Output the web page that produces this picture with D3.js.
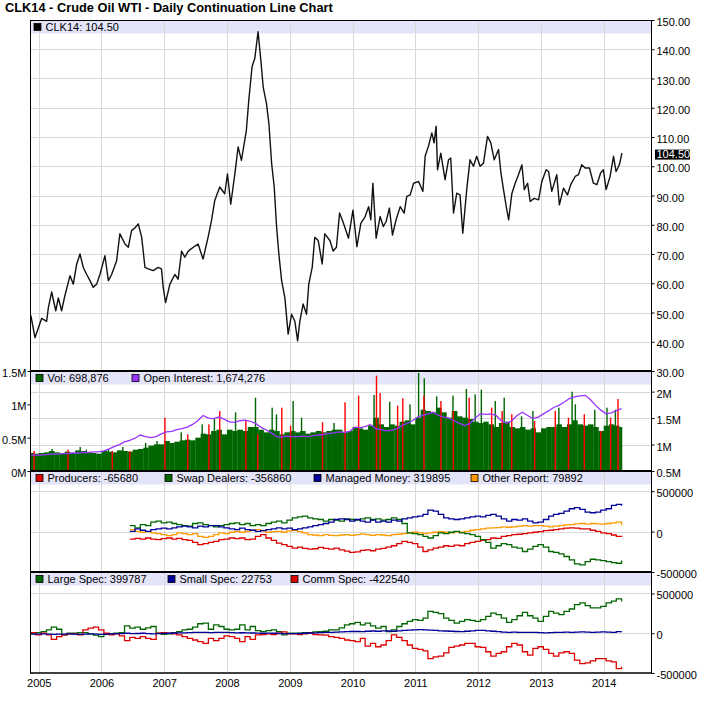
<!DOCTYPE html>
<html>
<head>
<meta charset="utf-8">
<title>CLK14 - Crude Oil WTI</title>
<script src="https://cdn.jsdelivr.net/npm/d3@7/dist/d3.min.js"></script>
<style>
  body { margin: 0; background: #fff; }
  svg text { font-family: "Liberation Sans", Arial, Helvetica, sans-serif; }
</style>
</head>
<body>
<script>
// ---- data ----

// daily continuation close (sampled), [date, price]
const priceData = [
  ["2004-11-16",49],["2004-12-10",41.4],["2005-01-18",48],["2005-02-16",47],["2005-02-26",51.7],
  ["2005-03-17",57],["2005-04-10",50.6],["2005-04-25",55],["2005-05-14",50.6],["2005-06-03",56],
  ["2005-07-02",62.6],["2005-07-21",59.7],["2005-08-10",66.6],["2005-08-29",70],["2005-09-17",65.4],
  ["2005-10-07",63],["2005-10-26",60.9],["2005-11-14",58.6],["2005-12-04",59.7],["2005-12-23",63],
  ["2006-01-21",69.4],["2006-02-10",60.9],["2006-03-01",63],["2006-03-30",67.7],["2006-04-18",76.9],
  ["2006-05-18",73.4],["2006-06-06",72.3],["2006-06-25",78],["2006-07-15",79],["2006-08-03",80.3],
  ["2006-08-23",75.7],["2006-09-11",65.4],["2006-09-30",64.9],["2006-10-29",64.3],["2006-11-27",65.4],
  ["2006-12-16",64.9],["2006-12-26",58.6],["2007-01-09",53.4],["2007-02-03",59.7],["2007-03-04",63],
  ["2007-03-23",61.4],["2007-04-12",71],["2007-05-01",68.9],["2007-05-21",71],["2007-06-19",72.3],
  ["2007-07-17",73.4],["2007-08-15",68.3],["2007-09-13",75.7],["2007-10-03",81.4],["2007-10-22",88.3],
  ["2007-11-20",92.9],["2007-12-19",90.6],["2008-01-04",97.4],["2008-01-23",87],["2008-02-16",97.4],
  ["2008-03-06",106.6],["2008-03-25",102],["2008-04-23",112.3],["2008-05-07",122.6],["2008-05-26",134],
  ["2008-06-11",136.9],["2008-06-30",146],["2008-07-16",136.3],["2008-07-30",127],["2008-08-18",121.4],
  ["2008-09-01",114.6],["2008-09-17",100.9],["2008-10-02",92.9],["2008-10-16",79],["2008-10-29",70],
  ["2008-11-14",60.9],["2008-12-03",55],["2008-12-22",42.6],["2009-01-11",49.4],["2009-01-30",47],
  ["2009-02-15",40.3],["2009-02-28",47],["2009-03-19",52.9],["2009-04-08",49.4],["2009-04-21",59.7],
  ["2009-05-11",65.4],["2009-05-26",75.7],["2009-06-15",74.6],["2009-07-08",66.6],["2009-07-23",76.9],
  ["2009-08-22",74.6],["2009-09-10",71],["2009-09-29",72.3],["2009-10-17",84],["2009-11-09",80.5],
  ["2009-12-08",75.4],["2010-01-03",85],["2010-01-26",72.5],["2010-02-18",80.5],["2010-03-15",82.8],
  ["2010-04-04",86.2],["2010-04-17",81.7],["2010-04-29",94.2],["2010-05-18",75.4],["2010-06-10",82.8],
  ["2010-06-29",79.4],["2010-07-15",81.1],["2010-08-03",85.7],["2010-08-21",76.5],["2010-09-11",81.7],
  ["2010-10-05",86.2],["2010-10-28",84],["2010-11-12",89.7],["2010-12-02",90.2],["2010-12-22",94.2],
  ["2011-01-20",94.8],["2011-02-14",91.4],["2011-02-27",103.4],["2011-03-18",106.8],["2011-04-07",111.4],
  ["2011-04-20",108],["2011-05-02",113.7],["2011-05-10",98.8],["2011-05-29",104.5],["2011-06-23",95.4],
  ["2011-07-13",102.2],["2011-07-26",102.8],["2011-08-11",84],["2011-08-30",90.8],["2011-09-18",90.2],
  ["2011-10-04",77.1],["2011-10-27",92],["2011-11-15",102.2],["2011-12-05",100],["2011-12-24",103.4],
  ["2012-01-13",100],["2012-02-01",101],["2012-02-25",110.2],["2012-03-15",108],["2012-04-04",102.2],
  ["2012-04-29",105.7],["2012-05-13",97.7],["2012-05-28",92],["2012-06-13",86.2],["2012-06-27",81.7],
  ["2012-07-16",90.8],["2012-08-04",94.2],["2012-08-23",97.1],["2012-09-12",100.5],["2012-09-26",92],
  ["2012-10-15",94.2],["2012-10-30",88],["2012-11-23",89],["2012-12-18",88.5],["2013-01-06",94.8],
  ["2013-01-31",98.8],["2013-02-14",98.2],["2013-03-05",91.4],["2013-04-03",97.1],["2013-04-18",86.8],
  ["2013-05-12",92.5],["2013-06-04",90.2],["2013-06-23",93.7],["2013-07-19",96.5],["2013-08-07",97.1],
  ["2013-08-26",100.5],["2013-09-15",99.4],["2013-10-10",99.4],["2013-11-02",94.2],["2013-11-22",93.7],
  ["2013-12-14",97.7],["2013-12-30",98.8],["2014-01-15",92],["2014-02-07",96.5],["2014-02-27",103.4],
  ["2014-03-14",98.2],["2014-04-02",100.5],["2014-04-17",104.5]
];
const lastPrice = 104.50;

// monthly volume level (millions), Nov 2004 .. Apr 2014
const volumeM = [
  0.27,0.26,
  0.27,0.28,0.30,0.28,0.27,0.29,0.27,0.31,0.30,0.28,0.27,0.26,
  0.30,0.29,0.28,0.31,0.30,0.29,0.32,0.33,0.35,0.38,0.40,0.40,
  0.45,0.42,0.44,0.46,0.47,0.46,0.50,0.56,0.55,0.60,0.62,0.55,
  0.62,0.60,0.62,0.60,0.66,0.66,0.62,0.58,0.62,0.60,0.55,0.58,
  0.60,0.58,0.60,0.56,0.58,0.60,0.58,0.60,0.62,0.62,0.58,0.60,
  0.66,0.64,0.62,0.68,0.80,0.70,0.66,0.70,0.68,0.74,0.76,0.70,
  0.80,0.92,0.90,0.88,0.95,0.88,0.80,0.90,0.82,0.80,0.78,0.74,
  0.72,0.74,0.70,0.66,0.72,0.74,0.66,0.64,0.66,0.62,0.64,0.58,
  0.64,0.66,0.66,0.70,0.66,0.70,0.76,0.70,0.68,0.70,0.66,0.60,
  0.68,0.70,0.68,0.66
];
// single heavy sessions, [date, millions]
const volUpSpikes = [
  ["2005-03-20",0.33],["2005-08-30",0.36],["2005-10-05",0.32],["2006-02-10",0.33],["2006-05-05",0.36],
  ["2006-09-15",0.42],["2006-11-20",0.45],["2007-04-10",0.58],["2007-08-10",0.70],["2007-10-20",0.78],
  ["2008-02-20",0.88],["2008-06-15",1.10],["2008-09-20",0.95],["2008-10-15",0.85],["2009-01-20",1.05],
  ["2009-03-10",0.80],["2009-09-15",0.72],["2010-05-06",1.14],["2010-08-05",1.04],["2010-12-01",1.00],
  ["2011-01-20",1.47],["2011-02-22",1.39],["2011-05-05",1.12],["2011-08-08",1.13],["2011-10-25",1.23],
  ["2011-12-15",1.15],["2012-01-20",1.22],["2012-04-10",1.05],["2012-06-01",1.10],["2012-09-10",0.82],
  ["2012-11-15",0.90],["2013-04-15",0.95],["2013-07-01",1.19],["2013-07-20",1.00],["2013-11-10",0.92],
  ["2014-01-20",0.95],["2014-03-10",0.92]
];
const volDownSpikes = [
  ["2004-12-05",0.30],["2005-06-20",0.32],["2006-03-05",0.30],["2006-06-15",0.30],["2007-01-05",0.80],
  ["2007-05-18",0.55],["2007-09-18",0.70],["2007-11-20",0.90],["2008-04-20",0.75],["2008-06-28",0.55],
  ["2008-11-15",0.95],["2009-01-05",0.68],["2009-07-10",0.73],["2009-11-18",1.03],["2010-02-05",1.13],
  ["2010-05-20",1.43],["2010-06-10",1.17],["2010-09-20",0.98],["2010-10-20",1.09],["2011-02-20",1.13],
  ["2011-05-30",1.05],["2011-08-10",0.90],["2011-11-10",1.10],["2012-03-20",0.95],["2012-05-20",0.90],
  ["2012-07-15",0.85],["2012-11-25",0.75],["2013-03-25",0.90],["2013-06-10",0.80],["2013-09-10",0.85],
  ["2013-12-15",0.60],["2014-02-10",0.80],["2014-03-25",1.08]
];
// open interest (millions), Nov 2004 .. Apr 2014
const openInterestM = [
  0.80,0.80,
  0.80,0.81,0.82,0.82,0.83,0.83,0.84,0.84,0.85,0.85,0.86,0.86,
  0.88,0.92,0.96,1.00,1.05,1.08,1.12,1.18,1.15,1.13,1.15,1.20,
  1.24,1.25,1.28,1.30,1.33,1.38,1.45,1.55,1.50,1.49,1.52,1.48,
  1.43,1.42,1.45,1.46,1.44,1.40,1.33,1.28,1.22,1.15,1.14,1.16,
  1.15,1.15,1.16,1.15,1.17,1.18,1.19,1.21,1.22,1.24,1.23,1.25,
  1.33,1.32,1.34,1.38,1.30,1.28,1.26,1.27,1.30,1.36,1.40,1.45,
  1.52,1.55,1.58,1.61,1.55,1.52,1.50,1.45,1.40,1.36,1.40,1.50,
  1.58,1.57,1.58,1.55,1.45,1.40,1.45,1.55,1.61,1.55,1.49,1.52,
  1.58,1.64,1.70,1.74,1.80,1.87,1.90,1.92,1.93,1.85,1.74,1.65,
  1.58,1.60,1.64,1.68
];

// disaggregated COT net positions (thousands), Jun 2006 .. Apr 2014
const producersK = [
  -92,-83,-92,-79,-92,-100,-88,
  -79,-92,-83,-100,-108,-133,-162,-150,-133,-121,-100,-92,
  -79,-88,-79,-100,-92,-58,-37,-79,-108,-142,-162,-183,
  -204,-192,-208,-217,-212,-196,-208,-217,-204,-225,-242,-258,
  -250,-233,-225,-237,-217,-208,-192,-175,-150,-121,-133,-150,
  -192,-246,-225,-204,-192,-175,-183,-167,-175,-150,-133,-121,
  -108,-100,-79,-83,-58,-50,-37,-33,-25,-17,-8,0,
  12,17,25,33,42,46,42,33,33,17,4,-17,
  -25,-42,-58,-66
];
const swapDealersK = [
  75,46,87,75,117,129,108,
  117,100,87,75,67,100,108,87,75,58,75,87,
  100,108,87,100,75,87,75,100,117,129,108,142,
  171,183,192,171,158,150,129,150,142,129,158,150,
  142,158,171,150,158,142,150,171,150,100,-17,-25,
  -37,-58,-79,-50,-17,-25,-8,4,-17,-25,-37,-58,
  -100,-133,-204,-175,-150,-162,-192,-204,-246,-217,-183,-162,
  -192,-246,-258,-275,-308,-350,-400,-412,-371,-342,-350,-358,
  -371,-383,-392,-357
];
const managedMoneyK = [
  4,33,17,4,25,33,42,
  33,46,58,67,58,46,67,58,75,75,58,46,
  33,25,42,25,17,4,12,25,33,46,33,42,
  25,33,46,58,75,87,100,117,150,158,150,129,
  150,129,117,142,117,129,117,142,129,158,171,183,
  192,212,267,254,212,171,158,150,158,171,183,192,
  183,200,212,192,158,129,150,142,158,129,108,117,
  150,192,212,225,254,283,296,275,242,233,242,267,
  283,325,337,320
];
const otherReportK = [
  25,4,-8,0,-17,-25,-37,
  -50,-37,-17,-25,-37,-25,-58,-71,-58,-37,-17,-25,
  -8,4,-8,4,17,25,8,-8,0,4,-8,8,
  17,0,-17,-37,-42,-50,-37,-46,-50,-42,-37,-46,
  -37,-29,-37,-46,-37,-42,-50,-37,-33,-25,-17,-8,
  -17,-25,-17,-8,0,-8,-17,-4,-8,4,17,25,
  33,42,46,50,58,54,58,67,75,67,75,75,
  67,58,67,75,83,87,96,100,92,100,96,92,
  100,108,117,80
];

// legacy COT net positions (thousands), Nov 2004 .. Apr 2014
const largeSpecK = [
  0,8,
  21,42,76,50,-21,0,0,8,8,-8,-25,-42,
  -13,-8,0,8,93,64,76,50,68,85,0,-13,
  -8,8,21,42,50,76,119,127,50,106,85,50,
  42,50,106,42,85,34,21,34,42,21,-21,0,
  0,0,8,8,17,21,25,42,42,68,106,119,
  136,106,127,93,64,85,21,42,85,119,148,170,
  161,191,275,263,246,191,161,127,148,170,161,148,
  170,212,254,233,191,136,170,220,263,220,191,148,
  212,275,254,233,275,305,360,381,347,318,318,339,
  381,403,432,400
];
const smallSpecK = [
  -10,-12,
  -8,-10,-15,-12,-10,-8,-12,-15,-10,-8,-12,-15,
  -10,-8,-5,-5,0,-5,-3,0,-5,-8,-5,-2,
  0,3,5,5,8,10,12,10,8,10,12,10,
  8,5,6,5,3,2,0,2,0,-3,-5,-5,
  -5,-3,0,3,5,8,10,12,15,18,20,22,
  22,20,25,28,25,30,28,25,30,35,38,42,
  45,42,40,35,30,28,25,22,20,25,30,35,
  35,30,25,20,15,12,15,12,10,12,10,8,
  5,8,10,12,15,12,15,18,15,12,15,18,
  15,12,20,23
];
const commSpecK = [
  8,-21,
  0,-21,-76,-42,-21,-8,-8,-21,42,64,76,42,
  0,-21,-8,-34,-93,-51,-64,-42,-64,-76,0,8,
  0,-8,-21,-42,-64,-85,-106,-127,-64,-93,-64,-34,
  -42,-64,-106,-42,-76,-21,-17,-8,-17,0,17,-8,
  -8,-17,-8,0,-17,-21,-25,-42,-51,-64,-85,-93,
  -106,-64,-161,-127,-170,-148,-93,-21,-51,-93,-148,-191,
  -204,-221,-318,-297,-288,-246,-178,-161,-148,-127,-127,-170,
  -178,-233,-288,-254,-233,-170,-127,-148,-233,-276,-191,-170,
  -204,-254,-288,-246,-233,-254,-339,-382,-373,-348,-318,-318,
  -348,-360,-445,-420
];

const yearTicks = [2005,2006,2007,2008,2009,2010,2011,2012,2013,2014];
const priceTicks = [30,40,50,60,70,80,90,100,110,120,130,140,150];
const volLeftTicks = [0,500000,1000000,1500000];
const oiRightTicks = [500000,1000000,1500000,2000000];
const cotTicks = [-500000,0,500000];

const titleText = "CLK14 - Crude Oil WTI - Daily Continuation Line Chart";
const priceLegend = [{label:"CLK14: 104.50", color:"#000000", x:34}];
const volLegend = [
  {label:"Vol: 698,876", color:"#006600", x:36},
  {label:"Open Interest: 1,674,276", color:"#9933ff", x:132}
];
const disLegend = [
  {label:"Producers: -65680", color:"#dd0000", x:36},
  {label:"Swap Dealers: -356860", color:"#006600", x:165},
  {label:"Managed Money: 319895", color:"#000099", x:314},
  {label:"Other Report: 79892", color:"#ff9900", x:471}
];
const legLegend = [
  {label:"Large Spec: 399787", color:"#006600", x:36},
  {label:"Small Spec: 22753", color:"#000099", x:168},
  {label:"Comm Spec: -422540", color:"#dd0000", x:291}
];

// ---- layout ----
const parse = d3.timeParse("%Y-%m-%d");
const L = 30.5, R = 651.5;
const P = {top:20, volTop:371, disTop:471, legTop:572, bottom:673};
const lastDate = parse("2014-04-17");
const months = d3.timeMonth.range(parse("2004-11-01"), parse("2014-05-01"));
const disMonths = d3.timeMonth.range(parse("2006-06-01"), parse("2014-05-01"));
const mid = m => d3.timeDay.offset(m, 14);

const svg = d3.select("body").append("svg")
  .attr("width", 704).attr("height", 709);

const x = d3.scaleTime()
  .domain([parse("2004-11-14"), parse("2014-10-06")])
  .range([L, R]);
const yPrice = d3.scaleLinear().domain([30,150]).range([P.volTop, P.top]);
const yVol = d3.scaleLinear().domain([0,1500000]).range([P.disTop, P.volTop]);
const yOI = d3.scaleLinear().domain([500000,2390000]).range([P.disTop, P.volTop]);
const yDis = d3.scaleLinear().domain([-500000,750000]).range([P.legTop, P.disTop]);
const yLeg = d3.scaleLinear().domain([-500000,770000]).range([P.bottom, P.legTop]);

// title
svg.append("text").attr("x", 5).attr("y", 12)
  .attr("font-size", 12.8).attr("font-weight", "bold").text(titleText);

// legend bands
[P.top, P.volTop, P.disTop, P.legTop].forEach(t => {
  svg.append("rect").attr("x", L).attr("y", t + 1)
    .attr("width", R - L).attr("height", 12.5).attr("fill", "#e4e4f8");
});

// gridlines
const grid = svg.append("g").attr("stroke", "#d8d8d8").attr("stroke-width", 1);
grid.selectAll("line.v").data(yearTicks).join("line")
  .attr("x1", d => Math.round(x(new Date(d,0,1))) + 0.5)
  .attr("x2", d => Math.round(x(new Date(d,0,1))) + 0.5)
  .attr("y1", P.top).attr("y2", P.bottom);
const hLine = (vals, scale) => grid.append("g").selectAll("line").data(vals).join("line")
  .attr("x1", L).attr("x2", R)
  .attr("y1", d => Math.round(scale(d)) + 0.5).attr("y2", d => Math.round(scale(d)) + 0.5);
hLine(priceTicks.slice(1, -1), yPrice);
hLine(oiRightTicks.slice(1), yOI);
hLine([0, 500000], yDis);
hLine([0, 500000], yLeg);

// clip per panel
const defs = svg.append("defs");
function clip(id, y0, y1) {
  defs.append("clipPath").attr("id", id).append("rect")
    .attr("x", L).attr("y", y0).attr("width", R - L).attr("height", y1 - y0);
  return `url(#${id})`;
}

// price
const gPrice = svg.append("g").attr("clip-path", clip("cp", P.top, P.volTop));
gPrice.append("path")
  .datum(priceData)
  .attr("fill", "none").attr("stroke", "#111").attr("stroke-width", 1.4)
  .attr("stroke-linejoin", "round")
  .attr("d", d3.line().x(d => x(parse(d[0]))).y(d => yPrice(d[1])));

// volume + open interest
const gVol = svg.append("g").attr("clip-path", clip("cv", P.volTop + 1, P.disTop));
gVol.selectAll("rect.base").data(volumeM).join("rect")
  .attr("x", (d,i) => x(months[i]))
  .attr("width", (d,i) => x(d3.min([d3.timeMonth.offset(months[i],1), lastDate])) - x(months[i]) + 0.3)
  .attr("y", d => yVol(d*1e6))
  .attr("height", d => yVol(0) - yVol(d*1e6))
  .attr("fill", "#006600");
gVol.selectAll("rect.up").data(volUpSpikes).join("rect")
  .attr("x", d => x(parse(d[0])) - 0.7).attr("width", 1.4)
  .attr("y", d => yVol(d[1]*1e6)).attr("height", d => yVol(0) - yVol(d[1]*1e6))
  .attr("fill", "#006600");
gVol.selectAll("rect.dn").data(volDownSpikes).join("rect")
  .attr("x", d => x(parse(d[0])) - 0.7).attr("width", 1.4)
  .attr("y", d => yVol(d[1]*1e6)).attr("height", d => yVol(0) - yVol(d[1]*1e6))
  .attr("fill", "#ff0000");
gVol.append("path")
  .datum(openInterestM)
  .attr("fill", "none").attr("stroke", "#9933ff").attr("stroke-width", 1.3)
  .attr("d", d3.line().x((d,i) => x(mid(months[i]))).y(d => yOI(d*1e6)));

// COT panels
function cotLine(g, vals, dates, scale, color) {
  g.append("path").datum(vals)
    .attr("fill", "none").attr("stroke", color).attr("stroke-width", 1.3)
    .attr("d", d3.line().curve(d3.curveStepAfter)
      .x((d,i) => x(mid(dates[i]))).y(d => scale(d*1000)));
}
const gDis = svg.append("g").attr("clip-path", clip("cd", P.disTop + 1, P.legTop));
cotLine(gDis, otherReportK, disMonths, yDis, "#ff9900");
cotLine(gDis, producersK, disMonths, yDis, "#dd0000");
cotLine(gDis, swapDealersK, disMonths, yDis, "#006600");
cotLine(gDis, managedMoneyK, disMonths, yDis, "#000099");

const gLeg = svg.append("g").attr("clip-path", clip("cl", P.legTop + 1, P.bottom));
cotLine(gLeg, largeSpecK, months, yLeg, "#006600");
cotLine(gLeg, commSpecK, months, yLeg, "#dd0000");
cotLine(gLeg, smallSpecK, months, yLeg, "#000099");

// frame
const frame = svg.append("g").attr("stroke", "#000");
frame.append("line").attr("x1", L).attr("x2", L).attr("y1", P.top).attr("y2", P.bottom);
frame.append("line").attr("x1", R).attr("x2", R).attr("y1", P.top).attr("y2", P.bottom);
frame.append("line").attr("x1", L).attr("x2", R).attr("y1", P.top + 0.5).attr("y2", P.top + 0.5);
[P.volTop, P.disTop, P.legTop].forEach(t => {
  frame.append("line").attr("x1", L).attr("x2", R + 0.5).attr("y1", t).attr("y2", t).attr("stroke-width", 2.2);
});
frame.append("line").attr("x1", L - 0.5).attr("x2", R + 0.5)
  .attr("y1", P.bottom).attr("y2", P.bottom).attr("stroke-width", 1.6);

// axes
function styleAxis(g) {
  g.select(".domain").remove();
  g.attr("font-size", 11);
  g.selectAll("text").attr("dy", "0.5em").attr("fill", "#000");
  g.selectAll("line").attr("stroke", "#000");
}
const rightAxis = (scale, ticks, fmt) => svg.append("g").attr("transform", `translate(${R},0)`)
  .call(d3.axisRight(scale).tickValues(ticks).tickFormat(fmt).tickSize(3).tickPadding(2))
  .call(styleAxis);
rightAxis(yPrice, priceTicks, d3.format(".2f"));
rightAxis(yOI, oiRightTicks, d => d/1e6 + "M");
rightAxis(yDis, cotTicks, d => String(d));
rightAxis(yLeg, cotTicks, d => String(d));

svg.append("g").attr("transform", `translate(${L},0)`)
  .call(d3.axisLeft(yVol).tickValues(volLeftTicks).tickFormat(d => d/1e6 + "M").tickSize(3).tickPadding(1))
  .call(styleAxis);

const xAxis = svg.append("g").attr("transform", `translate(0,${P.bottom})`)
  .call(d3.axisBottom(x).tickValues(yearTicks.map(y => new Date(y,0,1)))
    .tickFormat(d3.timeFormat("%Y")).tickSize(0).tickPadding(6));
xAxis.select(".domain").remove();
xAxis.attr("font-size", 11).selectAll("text").attr("fill", "#000");

// last price marker
const yp = yPrice(lastPrice);
svg.append("rect").attr("x", R + 3.5).attr("y", yp - 3.5).attr("width", 35).attr("height", 10).attr("fill", "#000");
svg.append("text").attr("x", R + 5).attr("y", yp + 5).attr("font-size", 11)
  .attr("fill", "#fff").text(d3.format(".2f")(lastPrice));

// legends
function legend(top, items) {
  items.forEach(it => {
    svg.append("rect").attr("x", it.x).attr("y", top + 3.5)
      .attr("width", 7).attr("height", 7)
      .attr("fill", it.color).attr("stroke", "#000").attr("stroke-width", 0.8);
    svg.append("text").attr("x", it.x + 11.5).attr("y", top + 11)
      .attr("font-size", 11).text(it.label);
  });
}
legend(P.top, priceLegend);
legend(P.volTop, volLegend);
legend(P.disTop, disLegend);
legend(P.legTop, legLegend);
</script>
</body>
</html>
